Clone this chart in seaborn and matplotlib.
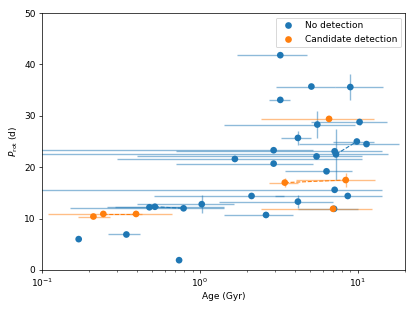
import numpy as np
import pandas as pd
import matplotlib
matplotlib.use("Agg")
import matplotlib.pyplot as plt
import seaborn as sns

# stellar ages (Gyr) with lower / upper bounds, rotation periods (d)
age = [3.24, 5.1, 9.0, 3.24, 6.6, 10.3, 5.56, 4.19, 9.9, 11.4,
       2.94, 7.16, 7.3, 5.5, 1.67, 2.94, 6.36, 3.46, 8.42, 7.16,
       2.13, 8.67, 1.03, 4.19, 2.63, 7.1, 7.0, 0.48, 0.52, 0.79,
       0.212, 0.245, 0.395, 0.171, 0.343, 0.74]
age_lo = [1.72, 3.06, 7.16, 2.76, 2.45, 5.1, 1.43, 3.28, 7.0, 4.28,
          0.05, 0.71, 0.05, 0.40, 0.30, 0.71, 3.47, 2.76, 4.09, 0.05,
          0.51, 3.0, 0.40, 1.33, 1.43, 4.19, 2.45, 0.29, 0.26, 0.15,
          0.17, 0.11, 0.36, 0.165, 0.264, 0.72]
age_hi = [4.81, 7.16, 14.4, 3.76, 12.7, 15.4, 9.7, 5.1, 12.8, 18.4,
          5.2, 14.2, 15.7, 10.6, 10.6, 5.2, 9.25, 4.19, 12.9, 14.2,
          3.4, 14.2, 1.65, 7.0, 3.89, 10.1, 12.3, 0.76, 1.42, 1.42,
          0.27, 0.67, 0.43, 0.178, 0.42, 0.76]
prot = [41.8, 35.7, 35.6, 33.1, 29.4, 28.8, 28.3, 25.7, 25.0, 24.5,
        23.3, 23.1, 22.5, 22.1, 21.6, 20.7, 19.2, 17.0, 17.5, 15.6,
        14.4, 14.4, 12.8, 13.3, 10.7, 11.9, 11.9, 12.2, 12.3, 12.0,
        10.4, 10.9, 10.9, 6.0, 6.9, 1.9]
prot_err = [0.3, 0.3, 2.6, 0.3, 0.3, 0.5, 2.6, 1.3, 0.3, 0.3,
            0.3, 0.3, 5.0, 0.3, 0.3, 0.3, 0.3, 0.8, 1.4, 0.3,
            0.3, 0.3, 1.7, 1.3, 0.3, 0.3, 0.3, 0.3, 0.3, 0.3,
            0.3, 0.3, 0.3, 0.4, 0.3, 0.4]
candidate = [0, 0, 0, 0, 1, 0, 0, 0, 0, 0,
             0, 0, 0, 0, 0, 0, 0, 1, 1, 0,
             0, 0, 0, 0, 0, 0, 1, 0, 0, 0,
             1, 1, 1, 0, 0, 0]

# pairs of entries that belong to the same star (joined by dashed lines)
links = [(12, 8), (28, 29), (17, 18), (31, 32)]

labels = ["No detection", "Candidate detection"]
colors = {"No detection": "C0", "Candidate detection": "C1"}

df = pd.DataFrame({
    "age": age, "lo": age_lo, "hi": age_hi,
    "prot": prot, "perr": prot_err,
    "kind": [labels[c] for c in candidate],
})

fig, ax = plt.subplots(figsize=(415 / 65, 311 / 65), dpi=65)
fig.subplots_adjust(left=0.101, right=0.976, bottom=0.132, top=0.958)

for kind in labels:
    sub = df[df["kind"] == kind]
    xerr = np.array([sub["age"] - sub["lo"], sub["hi"] - sub["age"]])
    ax.errorbar(sub["age"], sub["prot"], xerr=xerr, yerr=sub["perr"],
                fmt="none", ecolor=colors[kind], alpha=0.5, elinewidth=1.5,
                zorder=1)

for i, j in links:
    c = colors[df["kind"][i]]
    ax.plot([df["age"][i], df["age"][j]], [df["prot"][i], df["prot"][j]],
            ls="--", color=c, lw=1.2, zorder=2)

sns.scatterplot(data=df, x="age", y="prot", hue="kind", hue_order=labels,
                palette=colors, s=55, linewidth=0, ax=ax, zorder=3)

ax.set_xscale("log")
ax.set_xlim(0.1, 20)
ax.set_ylim(0, 50)
ax.set_xlabel("Age (Gyr)")
ax.set_ylabel(r"$P_{\rm rot}$ (d)")
ax.legend(loc="upper right")

fig.savefig("out.png", dpi=65)
